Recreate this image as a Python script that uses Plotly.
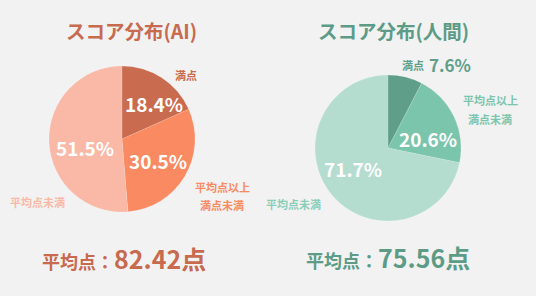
import plotly.graph_objects as go

# Data
categories = ["満点", "平均点以上<br>満点未満", "平均点未満"]
ai_values = [18.4, 30.5, 51.5]
human_values = [7.6, 20.6, 71.7]
ai_mean = 82.42
human_mean = 75.56
titles = ["スコア分布(AI)", "スコア分布(人間)"]

# Styles
ai_colors = ["#c96b4f", "#f98a62", "#f9b9a6"]
hu_colors = ["#5f9f89", "#7cc5ad", "#b4dccf"]
ai_text = "#c76a4e"
hu_text = "#5c9c86"
FONT = "Noto Sans CJK JP"
W, H = 536, 296

def px(x):
    return x / W

def py(y):
    return 1 - y / H

fig = go.Figure()
fig.add_trace(go.Pie(
    values=ai_values, labels=categories, sort=False, direction="clockwise", rotation=0,
    marker=dict(colors=ai_colors, line=dict(color="rgba(255,255,255,0.25)", width=0.5)),
    textinfo="none", hoverinfo="label+percent", showlegend=False,
    domain=dict(x=[px(49), px(195)], y=[py(212), py(66)]),
))
fig.add_trace(go.Pie(
    values=human_values, labels=categories, sort=False, direction="clockwise", rotation=0,
    marker=dict(colors=hu_colors, line=dict(color="rgba(255,255,255,0.25)", width=0.5)),
    textinfo="none", hoverinfo="label+percent", showlegend=False,
    domain=dict(x=[px(315), px(461)], y=[py(221), py(75)]),
))

ann = []
def add(x, y, text, size, color, bold=True, xanchor="center"):
    t = f"<b>{text}</b>" if bold else text
    ann.append(dict(x=px(x), y=py(y), xref="paper", yref="paper", text=t, showarrow=False,
                    font=dict(family=FONT, size=size, color=color), xanchor=xanchor, yanchor="middle"))

# Titles
add(131, 31, titles[0], 19.5, ai_text)
add(393, 31, titles[1], 19.5, hu_text)

# AI pie labels
add(154, 103, f"{ai_values[0]}%", 19, "white")
add(158, 160, f"{ai_values[1]}%", 19, "white")
add(85, 147, f"{ai_values[2]}%", 19, "white")
add(186, 75, categories[0], 11, ai_colors[0])
add(222, 187, "平均点以上", 11, ai_colors[1])
add(222, 205, "満点未満", 11, ai_colors[1])
add(37, 202, categories[2], 11, ai_colors[2])

# Human pie labels
add(413, 65, categories[0], 11, hu_colors[0])
add(450, 64, f"{human_values[0]}%", 17, hu_colors[0])
add(490, 100, "平均点以上", 11, hu_colors[1])
add(490, 119, "満点未満", 11, hu_colors[1])
add(428, 139, f"{human_values[1]}%", 19, "white")
add(353, 168, f"{human_values[2]}%", 19, "white")
add(293, 204, categories[2], 11, "#8ccdb8")

# Means
ann.append(dict(x=px(40), y=py(258), xref="paper", yref="paper", showarrow=False,
                xanchor="left", yanchor="middle",
                text=f"<b><span style='font-size:18px'>平均点：</span><span style='font-size:25px'>{ai_mean}点</span></b>",
                font=dict(family=FONT, size=18, color=ai_text)))
ann.append(dict(x=px(304), y=py(257), xref="paper", yref="paper", showarrow=False,
                xanchor="left", yanchor="middle",
                text=f"<b><span style='font-size:18px'>平均点：</span><span style='font-size:25px'>{human_mean}点</span></b>",
                font=dict(family=FONT, size=18, color=hu_text)))

fig.update_layout(
    width=W, height=H, margin=dict(l=0, r=0, t=0, b=0),
    paper_bgcolor="#f2f2f2", plot_bgcolor="#f2f2f2",
    annotations=ann, font=dict(family=FONT),
)
fig.write_html("out.html")
